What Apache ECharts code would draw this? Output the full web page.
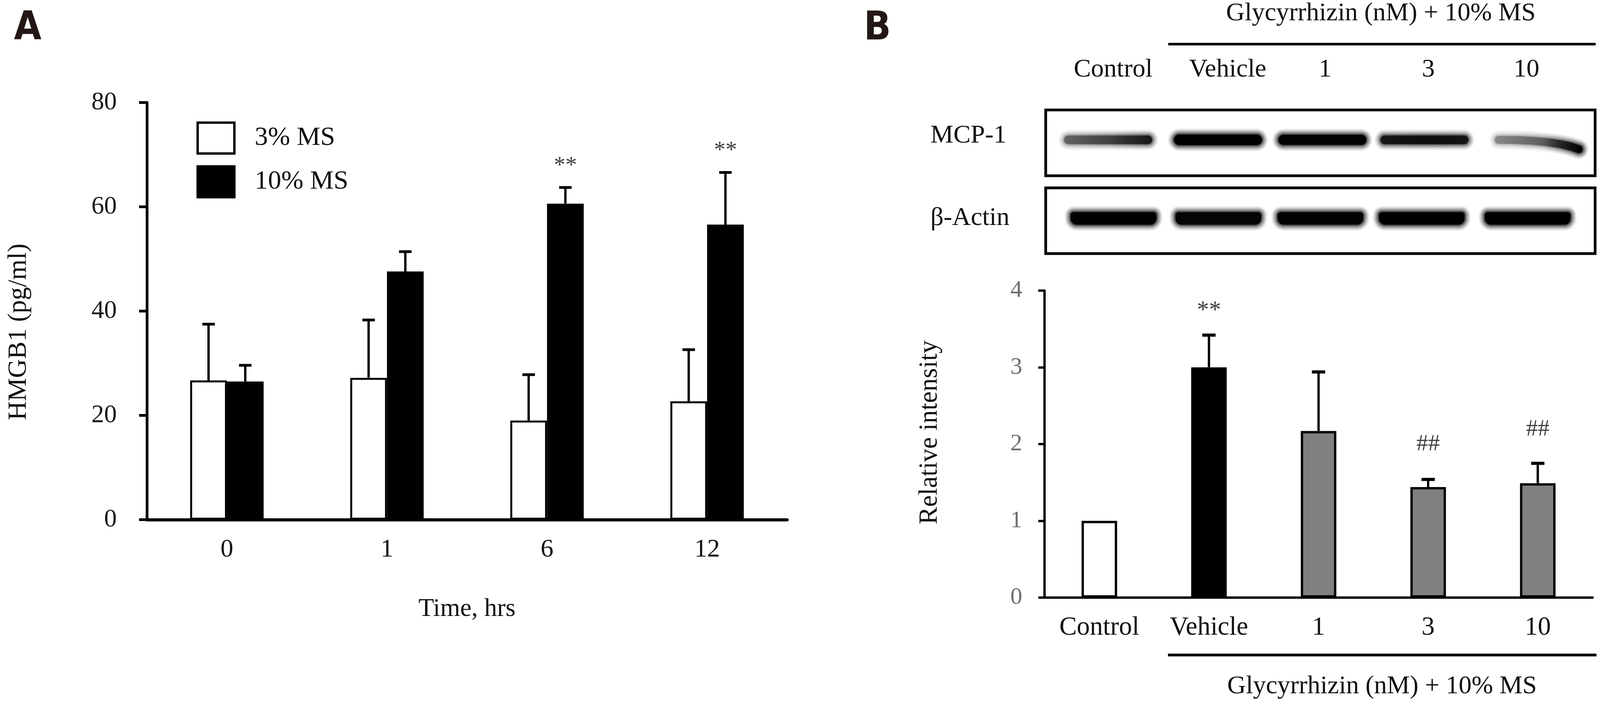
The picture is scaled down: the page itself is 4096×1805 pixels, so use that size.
<!DOCTYPE html>
<html><head><meta charset="utf-8">
<script src="https://cdn.jsdelivr.net/npm/echarts@6/dist/echarts.min.js"></script>
<style>html,body{margin:0;padding:0;background:#fff}#c{width:4096px;height:1805px}</style>
</head><body><div id="c"></div>
<script>
// ---------- DATA ----------
const timeCategories = ['0', '1', '6', '12'];
const ms3Mean = [26.7, 27.2, 19.0, 22.7];
const ms3Err = [10.8, 11.1, 8.8, 9.9];
const ms10Mean = [26.5, 47.6, 60.6, 56.6];
const ms10Err = [3.1, 3.8, 3.1, 10.0];
const ms10SigY = [null, null, 68.5, 71.4];
const ms10SigText = ['', '', '**', '**'];
const hmgbTicks = [0, 20, 40, 60, 80];

const groupCategories = ['Control', 'Vehicle', '1', '3', '10'];
const relMean = [1.0, 3.0, 2.17, 1.44, 1.49];
const relErr = [0, 0.42, 0.77, 0.10, 0.26];
const relSigY = [null, 3.79, null, 2.0, 2.19];
const relSigText = ['', '**', '', '##', '##'];
const relTicks = [0, 1, 2, 3, 4];

// blot band densities (0..1): left / middle / right part of each band
const mcpLeft = [0.40, 1.0, 0.97, 0.78, 0.28];
const mcpMid = [0.55, 1.0, 0.97, 0.85, 0.42];
const mcpRight = [0.78, 1.0, 0.97, 0.80, 1.0];
const actinDensity = [1.0, 0.95, 0.97, 1.0, 1.0];

// ---------- STYLE ----------
const SERIF = "'Liberation Serif','Times New Roman',serif";
const BAR_A_W = 94;
const BAR_B_W = 91;
const relColors = ['#ffffff', '#000000', '#808080', '#808080', '#808080'];
const MCP_ROW = 0.546;
const MCP_BEND = [0, 0, 0, 0, 24];
const MCP_SHIFT = [19, 19, 5, -15, -4];
const MCP_H = [22, 27, 26, 22, 20];
const ACTIN_ROW = 0.535;
const ACTIN_SHIFT = [33, 20, 0, -22, -32];
const LANE_LABEL_SHIFT = [32, 44, 12, -5, -35];
const HALO = [{dw: 30, k: 0.10}, {dw: 22, k: 0.18}, {dw: 14, k: 0.28}, {dw: 6, k: 0.45}, {dw: 0, k: 1}];

const chart = echarts.init(document.getElementById('c'), null, {renderer: 'canvas'});

function errA(params, api) {
  const i = api.value(0), mean = api.value(1), top = api.value(2), s = api.value(3);
  const xc = api.coord([i, 0])[0] + (s === 0 ? -1 : 1) * BAR_A_W / 2;
  const yb = api.coord([i, mean])[1];
  const yt = api.coord([i, top])[1];
  return {type: 'group', children: [
    {type: 'line', shape: {x1: xc, y1: yb, x2: xc, y2: yt}, style: {stroke: '#000', lineWidth: 6}},
    {type: 'line', shape: {x1: xc - 16, y1: yt, x2: xc + 16, y2: yt}, style: {stroke: '#000', lineWidth: 7}}
  ]};
}
function sigA(params, api) {
  const i = api.value(0), y = api.value(1);
  const p = api.coord([i, y]);
  return {type: 'text', x: p[0] + BAR_A_W / 2, y: p[1] + 9,
    style: {text: ms10SigText[i], fontFamily: SERIF, fontSize: 59, fill: '#404040', align: 'center', verticalAlign: 'middle'}};
}
function errB(params, api) {
  const i = api.value(0), mean = api.value(1), top = api.value(2);
  if (!(top > mean)) return null;
  const xc = api.coord([i, 0])[0];
  const yb = api.coord([i, mean])[1];
  const yt = api.coord([i, top])[1];
  return {type: 'group', children: [
    {type: 'line', shape: {x1: xc, y1: yb, x2: xc, y2: yt}, style: {stroke: '#000', lineWidth: 6}},
    {type: 'line', shape: {x1: xc - 17, y1: yt, x2: xc + 17, y2: yt}, style: {stroke: '#000', lineWidth: 8}}
  ]};
}
function sigB(params, api) {
  const i = api.value(0), y = api.value(1);
  const p = api.coord([i, y]);
  const t = relSigText[i];
  return {type: 'text', x: p[0], y: p[1] + (t === '**' ? 10 : 0),
    style: {text: t, fontFamily: SERIF, fontSize: t === '**' ? 62 : 60, fill: '#404040', align: 'center', verticalAlign: 'middle'}};
}
function rgba(a) { return 'rgba(0,0,0,' + Math.max(0, Math.min(1, a)).toFixed(3) + ')'; }
function mcpBand(params, api) {
  const i = api.value(0);
  const aL = api.value(1), aM = api.value(2), aR = api.value(3);
  const laneW = params.coordSys.width / groupCategories.length;
  const xc = api.coord([i, 0])[0] + MCP_SHIFT[i];
  const yc = api.coord([i, MCP_ROW])[1];
  const w = laneW * 0.8, h = MCP_H[i];
  const x1 = xc - w / 2 + h / 2, x2 = xc + w / 2 - h / 2;
  const bend = MCP_BEND[i];
  const children = HALO.map(L => ({
    type: 'bezierCurve',
    shape: {x1: x1, y1: yc, x2: x2, y2: yc + bend, cpx1: x1 + (x2 - x1) * 0.7, cpy1: yc},
    style: {
      stroke: new echarts.graphic.LinearGradient(xc - w / 2, 0, xc + w / 2, 0, [
        {offset: 0, color: rgba(aL * L.k)},
        {offset: 0.55, color: rgba(aM * L.k)},
        {offset: 1, color: rgba(aR * L.k)}
      ], true),
      fill: null, lineWidth: h + L.dw, lineCap: 'round'
    }
  }));
  return {type: 'group', children: children};
}
function actinBand(params, api) {
  const i = api.value(0), a = api.value(1);
  const laneW = params.coordSys.width / groupCategories.length;
  const xc = api.coord([i, 0])[0] + ACTIN_SHIFT[i];
  const yc = api.coord([i, ACTIN_ROW])[1];
  const w = laneW * 0.78, h = 32;
  const children = HALO.map(L => ({
    type: 'rect',
    shape: {x: xc - (w + L.dw) / 2, y: yc - (h + L.dw) / 2, width: w + L.dw, height: h + L.dw,
      r: [(8 + L.dw / 2), (8 + L.dw / 2), (16 + L.dw / 2), (16 + L.dw / 2)]},
    style: {fill: rgba(a * L.k)}
  }));
  return {type: 'group', children: children};
}

const errAData = [];
ms3Mean.forEach((m, i) => errAData.push([i, m, m + ms3Err[i], 0]));
ms10Mean.forEach((m, i) => errAData.push([i, m, m + ms10Err[i], 1]));
const sigAData = [];
ms10SigY.forEach((y, i) => { if (y != null) sigAData.push([i, y]); });
const errBData = relMean.map((m, i) => [i, m, m + relErr[i]]);
const sigBData = [];
relSigY.forEach((y, i) => { if (y != null) sigBData.push([i, y]); });

const laneRich = {};
LANE_LABEL_SHIFT.forEach((s, i) => {
  laneRich['l' + i] = {fontFamily: SERIF, fontSize: 66, color: '#111',
    padding: s >= 0 ? [0, 0, 0, 2 * s] : [0, -2 * s, 0, 0]};
});

const option = {
  backgroundColor: '#fff',
  animation: false,
  grid: [
    {left: 376, top: 262.5, width: 1639, height: 1068},
    {left: 2674, top: 744, width: 1403, height: 786},
    {left: 2677, top: 281.5, width: 1406.5, height: 168.4, show: true, borderColor: '#000', borderWidth: 7, backgroundColor: '#fff'},
    {left: 2677, top: 481, width: 1406.5, height: 168.3, show: true, borderColor: '#000', borderWidth: 7, backgroundColor: '#fff'}
  ],
  legend: {
    orient: 'vertical', left: 503, top: 311, itemWidth: 94, itemHeight: 79, itemGap: 27, icon: 'rect', padding: 0,
    selectedMode: false,
    textStyle: {fontFamily: SERIF, fontSize: 68, color: '#111', padding: [0, 0, 0, 47]},
    data: [
      {name: '3% MS', itemStyle: {color: '#fff', borderColor: '#000', borderWidth: 6}},
      {name: '10% MS', itemStyle: {color: '#000', borderColor: '#000', borderWidth: 6}}
    ]
  },
  xAxis: [
    {gridIndex: 0, type: 'category', data: timeCategories,
      name: 'Time, hrs', nameLocation: 'middle', nameGap: 196,
      nameTextStyle: {fontFamily: SERIF, fontSize: 65.5, color: '#111'},
      axisLine: {lineStyle: {color: '#000', width: 8}}, axisTick: {show: false},
      axisLabel: {fontFamily: SERIF, fontSize: 65.5, color: '#111', margin: 44, interval: 0}},
    {gridIndex: 1, type: 'category', data: groupCategories,
      axisLine: {lineStyle: {color: '#000', width: 6}}, axisTick: {show: false},
      axisLabel: {fontFamily: SERIF, fontSize: 67, color: '#111', margin: 44, interval: 0}},
    {gridIndex: 2, type: 'category', data: groupCategories, position: 'top',
      axisLine: {show: false}, axisTick: {show: false},
      axisLabel: {fontFamily: SERIF, fontSize: 66, color: '#111', margin: 70, interval: 0, hideOverlap: false,
        formatter: (v, idx) => '{l' + idx + '|' + v + '}', rich: laneRich}},
    {gridIndex: 3, type: 'category', data: groupCategories, show: false}
  ],
  yAxis: [
    {gridIndex: 0, type: 'value', min: hmgbTicks[0], max: hmgbTicks[hmgbTicks.length - 1], interval: 20,
      name: 'HMGB1 (pg/ml)', nameLocation: 'middle', nameGap: 294,
      nameTextStyle: {fontFamily: SERIF, fontSize: 67, color: '#111', padding: [0, 106, 0, 0]},
      splitLine: {show: false},
      axisLine: {show: true, lineStyle: {color: '#000', width: 7}},
      axisTick: {show: true, length: 20, lineStyle: {color: '#000', width: 7}},
      axisLabel: {fontFamily: SERIF, fontSize: 65, color: '#1a1a1a', margin: 77}},
    {gridIndex: 1, type: 'value', min: relTicks[0], max: relTicks[relTicks.length - 1], interval: 1,
      name: 'Relative intensity', nameLocation: 'middle', nameGap: 260,
      nameTextStyle: {fontFamily: SERIF, fontSize: 67, color: '#111', padding: [0, 0, 0, 60]},
      splitLine: {show: false},
      axisLine: {show: true, lineStyle: {color: '#000', width: 6}},
      axisTick: {show: true, length: 16, lineStyle: {color: '#000', width: 6}},
      axisLabel: {fontFamily: SERIF, fontSize: 61, color: '#6e6e6e', margin: 57}},
    {gridIndex: 2, type: 'value', min: 0, max: 1, show: false},
    {gridIndex: 3, type: 'value', min: 0, max: 1, show: false}
  ],
  series: [
    {type: 'bar', name: '3% MS', xAxisIndex: 0, yAxisIndex: 0, data: ms3Mean, barWidth: BAR_A_W, barGap: '0%',
      itemStyle: {color: '#fff', borderColor: '#000', borderWidth: 5}},
    {type: 'bar', name: '10% MS', xAxisIndex: 0, yAxisIndex: 0, data: ms10Mean, barWidth: BAR_A_W, barGap: '0%',
      itemStyle: {color: '#000', borderColor: '#000', borderWidth: 5}},
    {type: 'custom', xAxisIndex: 0, yAxisIndex: 0, renderItem: errA, data: errAData, z: 5, silent: true},
    {type: 'custom', xAxisIndex: 0, yAxisIndex: 0, renderItem: sigA, data: sigAData, z: 5, silent: true},
    {type: 'bar', name: 'Relative intensity', xAxisIndex: 1, yAxisIndex: 1, barWidth: BAR_B_W,
      data: relMean.map((v, i) => ({value: v, itemStyle: {color: relColors[i]}})),
      itemStyle: {borderColor: '#000', borderWidth: 6}},
    {type: 'custom', xAxisIndex: 1, yAxisIndex: 1, renderItem: errB, data: errBData, z: 5, silent: true},
    {type: 'custom', xAxisIndex: 1, yAxisIndex: 1, renderItem: sigB, data: sigBData, z: 5, silent: true},
    {type: 'custom', xAxisIndex: 2, yAxisIndex: 2, renderItem: mcpBand, clip: true,
      data: mcpLeft.map((v, i) => [i, v, mcpMid[i], mcpRight[i]]), silent: true},
    {type: 'custom', xAxisIndex: 3, yAxisIndex: 3, renderItem: actinBand, clip: true,
      data: actinDensity.map((v, i) => [i, v]), silent: true}
  ],
  graphic: [
    {type: 'text', x: 71, y: 75, style: {text: 'A', font: "bold 101px 'Liberation Sans Narrow','DejaVu Sans Condensed',sans-serif", fill: '#231815', align: 'center', verticalAlign: 'middle'}},
    {type: 'text', x: 2246, y: 75, style: {text: 'B', font: "bold 101px 'Liberation Sans Narrow','DejaVu Sans Condensed',sans-serif", fill: '#231815', align: 'center', verticalAlign: 'middle'}},
    {type: 'text', x: 3535, y: 35, style: {text: 'Glycyrrhizin (nM) + 10% MS', fontFamily: SERIF, fontSize: 66, fill: '#111', align: 'center', verticalAlign: 'middle'}},
    {type: 'line', shape: {x1: 2990.6, y1: 113, x2: 4085, y2: 113}, style: {stroke: '#000', lineWidth: 6.5}},
    {type: 'text', x: 2382, y: 348, style: {text: 'MCP-1', fontFamily: SERIF, fontSize: 66, fill: '#111', align: 'left', verticalAlign: 'middle'}},
    {type: 'text', x: 2382, y: 558.5, style: {text: 'β-Actin', fontFamily: SERIF, fontSize: 66, fill: '#111', align: 'left', verticalAlign: 'middle'}},
    {type: 'line', shape: {x1: 2990, y1: 1677, x2: 4087, y2: 1677}, style: {stroke: '#000', lineWidth: 7}},
    {type: 'text', x: 3538, y: 1758, style: {text: 'Glycyrrhizin (nM) + 10% MS', fontFamily: SERIF, fontSize: 66, fill: '#111', align: 'center', verticalAlign: 'middle'}}
  ]
};
chart.setOption(option);
</script>
</body></html>
